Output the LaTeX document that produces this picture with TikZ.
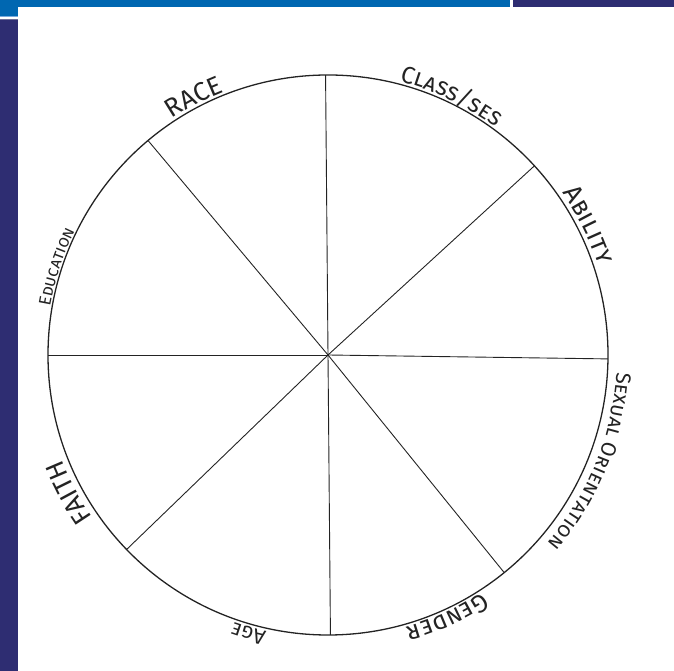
\documentclass[tikz,border=0pt]{standalone}
\usepackage{fontspec}
\setmainfont{Fira Sans}
\usetikzlibrary{decorations.text, math}
\definecolor{wblue}{RGB}{0,103,177}
\definecolor{wnavy}{RGB}{46,45,114}
\definecolor{wlight}{RGB}{120,170,220}
\definecolor{wgrey}{RGB}{110,110,150}
\definecolor{wink}{RGB}{35,35,35}
\tikzset{
  rim/.style={draw=wink, line width=1.3pt},
  spoke/.style={draw=wink, line width=0.9pt},
}
% angle, radius, size, text
\newcommand{\wheellabel}[4]{%
  \path[decorate, decoration={text along path, text align=center,
    text color=wink, text={|\fontsize{#3}{#3}\selectfont\scshape|#4}}]
    (#1+50:#2) arc[start angle=#1+50, end angle=#1-50, radius=#2];}

\begin{document}
\begin{tikzpicture}[x=1pt, y=1pt]
\tikzmath{
\R=280;
}
\useasboundingbox (0,0) rectangle (674,671);

\fill[wblue] (0,664) rectangle (510,671);
\fill[wnavy] (513,664) rectangle (674,671);
\fill[wblue] (0,654.5) rectangle (18,671);
\fill[wlight] (0,653.5) rectangle (18,654.5);
\fill[wgrey] (0,651) rectangle (18,652);
\fill[wnavy] (0,0) rectangle (18,651);

\coordinate (c) at (328,316);
\draw[rim] (c) circle (\R);
\foreach \a in {90.5, 130, 42.5, -0.8, -51, -89.5, 224, 180}
  \draw[spoke] (c) -- ++(\a:\R);

\begin{scope}[shift={(c)}]
\wheellabel{117.5}{283}{26}{RACE}
\wheellabel{64.5}{283}{24}{Class/ses}
\wheellabel{26.5}{285}{26}{Ability}
\wheellabel{-22}{289}{21}{Sexual Orientation}
\wheellabel{-65.5}{283}{25}{Gender}
\wheellabel{-106}{283}{21}{Age}
\wheellabel{208}{286}{26}{FAITH}
\wheellabel{162}{282}{17}{Education}
\end{scope}
\end{tikzpicture}
\end{document}
